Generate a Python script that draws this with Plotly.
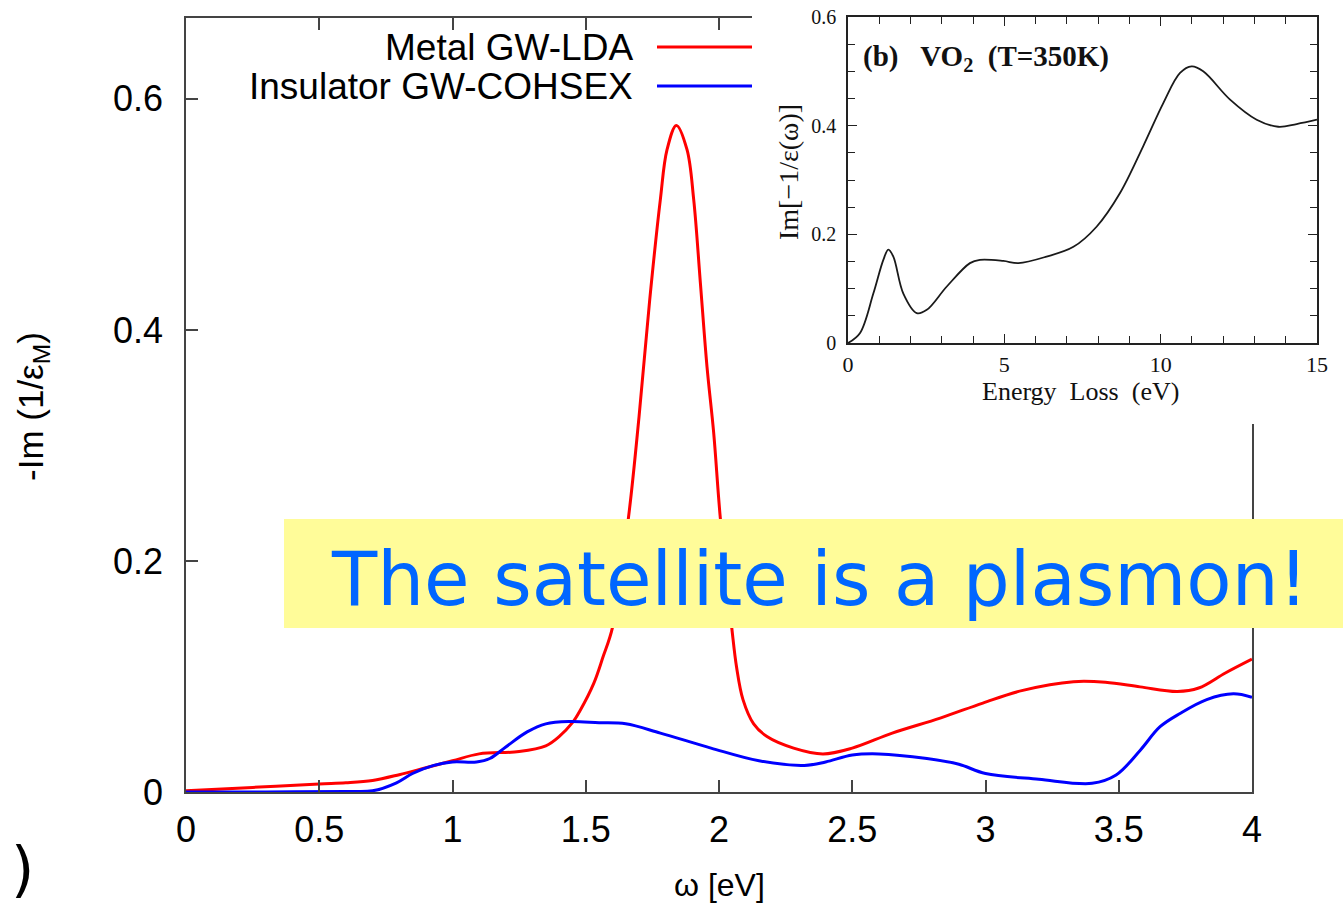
import plotly.graph_objects as go

W, H = 1343, 906

# ---------------- data ----------------
metal_x = [0, 0.25, 0.5, 0.6, 0.7, 0.8, 0.9, 1.0, 1.1, 1.25, 1.35, 1.40, 1.45, 1.48, 1.53, 1.565,
           1.6, 1.66, 1.70, 1.74, 1.78, 1.805, 1.84, 1.88, 1.905, 1.93, 1.955, 1.98, 2.005, 2.048,
           2.066, 2.09, 2.13, 2.18, 2.28, 2.39, 2.5, 2.65, 2.83, 2.99, 3.14, 3.33, 3.45, 3.58,
           3.72, 3.8, 3.9, 4.0]
metal_y = [0.001, 0.004, 0.007, 0.008, 0.010, 0.015, 0.021, 0.027, 0.033, 0.035, 0.040, 0.048,
           0.060, 0.071, 0.094, 0.117, 0.142, 0.237, 0.325, 0.426, 0.513, 0.556, 0.577, 0.556,
           0.513, 0.441, 0.368, 0.311, 0.237, 0.142, 0.108, 0.080, 0.059, 0.048, 0.038, 0.033,
           0.038, 0.051, 0.064, 0.077, 0.088, 0.0955, 0.095, 0.091, 0.087, 0.090, 0.103, 0.115]

insul_x = [0, 0.3, 0.6, 0.7, 0.79, 0.85, 0.93, 1.0, 1.09, 1.14, 1.2, 1.28, 1.35, 1.44, 1.55,
           1.65, 1.78, 1.97, 2.15, 2.32, 2.40, 2.50, 2.60, 2.78, 2.90, 3.0, 3.2, 3.40, 3.49,
           3.58, 3.655, 3.73, 3.83, 3.93, 4.0]
insul_y = [0.0, 0.0, 0.0005, 0.001, 0.008, 0.016, 0.023, 0.026, 0.026, 0.029, 0.039, 0.052,
           0.059, 0.061, 0.060, 0.059, 0.051, 0.038, 0.027, 0.023, 0.026, 0.032, 0.033, 0.029,
           0.024, 0.016, 0.011, 0.0075, 0.0147, 0.036, 0.0565, 0.068, 0.080, 0.085, 0.082]

exp_x = [0, 0.38, 0.81, 1.13, 1.29, 1.45, 1.77, 2.2, 2.52, 3.16, 3.9, 4.22, 4.97, 5.45, 6.35,
         7.21, 7.95, 8.7, 9.44, 10.08, 10.62, 10.99, 11.36, 12.22, 13.07, 13.76, 14.35, 15.0]
exp_y = [0, 0.018, 0.091, 0.153, 0.172, 0.159, 0.091, 0.055, 0.061, 0.104, 0.147, 0.153, 0.151,
         0.147, 0.159, 0.177, 0.214, 0.276, 0.362, 0.441, 0.497, 0.509, 0.500, 0.448, 0.411,
         0.398, 0.403, 0.411]

legend_names = ["Metal GW-LDA", "Insulator GW-COHSEX"]
main_xticks = [0, 0.5, 1, 1.5, 2, 2.5, 3, 3.5, 4]
main_yticks = [0, 0.2, 0.4, 0.6]
inset_xticks = [0, 5, 10, 15]
inset_yticks = [0, 0.2, 0.4, 0.6]
inset_yticktext = ["0", "0.2", "0.4", "0.6"]

RED = "#FF0000"
BLUE = "#0000FF"


def px(x):
    return x / W


def py(y):
    return 1 - y / H


fig = go.Figure()

# main curves
fig.add_trace(go.Scatter(x=metal_x, y=metal_y, mode="lines", name=legend_names[0],
                         line=dict(color=RED, width=3, shape="spline", smoothing=1.0),
                         xaxis="x", yaxis="y", showlegend=False))
fig.add_trace(go.Scatter(x=insul_x, y=insul_y, mode="lines", name=legend_names[1],
                         line=dict(color=BLUE, width=3, shape="spline", smoothing=1.0),
                         xaxis="x", yaxis="y", showlegend=False))

# white cover subplot (inset background)
fig.add_trace(go.Scatter(x=[0], y=[0], mode="markers", marker=dict(opacity=0),
                         hoverinfo="skip", showlegend=False, xaxis="x2", yaxis="y2"))

# inset curve
fig.add_trace(go.Scatter(x=exp_x, y=exp_y, mode="lines",
                         line=dict(color="#1a1a1a", width=1.8, shape="spline", smoothing=1.0),
                         xaxis="x3", yaxis="y3", showlegend=False))

AX = "#444444"
main_font = dict(family="Liberation Sans, Arial, sans-serif", size=36, color="black")
serif = "Liberation Serif, Times New Roman, serif"

fig.update_layout(
    width=W, height=H, template="none",
    margin=dict(l=0, r=0, t=0, b=0),
    paper_bgcolor="white", plot_bgcolor="white",
    showlegend=False,
    xaxis=dict(domain=[px(186), px(1252)], range=[0, 4], anchor="y",
               tickvals=main_xticks, ticks="inside", ticklen=12, tickwidth=1.5, tickcolor=AX,
               showline=True, linecolor=AX, linewidth=1.5, mirror="ticks",
               showgrid=False, zeroline=False, tickfont=main_font,
               ticklabelstandoff=5, automargin=False),
    yaxis=dict(domain=[py(792), py(18)], range=[0, 0.67], anchor="x",
               tickvals=main_yticks, ticks="inside", ticklen=12, tickwidth=1.5, tickcolor=AX,
               showline=True, linecolor=AX, linewidth=1.5, mirror="ticks",
               showgrid=False, zeroline=False, tickfont=main_font,
               ticklabelstandoff=14, automargin=False),
    xaxis2=dict(domain=[px(752), 1.0], range=[0, 1], anchor="y2", visible=False,
                showgrid=False, zeroline=False, automargin=False),
    yaxis2=dict(domain=[py(424), 1.0], range=[0, 1], anchor="x2", visible=False,
                showgrid=False, zeroline=False, automargin=False),
    xaxis3=dict(domain=[px(848), px(1317)], range=[0, 15], anchor="y3",
                tickvals=inset_xticks, ticks="inside", ticklen=9, tickwidth=1.3,
                tickcolor="#222", showline=True, linecolor="#222", linewidth=1.6,
                mirror="ticks", showgrid=False, zeroline=False,
                minor=dict(dtick=1, ticks="inside", ticklen=7, tickwidth=1.2, tickcolor="#222"),
                tickfont=dict(family=serif, size=22, color="#111"),
                ticklabelstandoff=1, automargin=False),
    yaxis3=dict(domain=[py(343), py(17)], range=[0, 0.6], anchor="x3",
                tickvals=inset_yticks, ticktext=inset_yticktext, ticks="inside", ticklen=9,
                tickwidth=1.3, tickcolor="#222", showline=True, linecolor="#222", linewidth=1.6,
                mirror="ticks", showgrid=False, zeroline=False,
                minor=dict(dtick=0.05, ticks="inside", ticklen=7, tickwidth=1.2, tickcolor="#222"),
                tickfont=dict(family=serif, size=20, color="#111"),
                ticklabelstandoff=6, automargin=False),
)

shapes = []
# legend line samples
shapes.append(dict(type="line", xref="paper", yref="paper", x0=px(657), x1=px(752),
                   y0=py(47), y1=py(47), line=dict(color=RED, width=3), layer="above"))
shapes.append(dict(type="line", xref="paper", yref="paper", x0=px(657), x1=px(752),
                   y0=py(86), y1=py(86), line=dict(color=BLUE, width=3), layer="above"))
# yellow callout box
shapes.append(dict(type="rect", xref="paper", yref="paper", x0=px(284), x1=1.0,
                   y0=py(628), y1=py(519), fillcolor="#FFFC99", line=dict(width=0),
                   layer="above"))
fig.update_layout(shapes=shapes)

ann = []
# legend texts
ann.append(dict(text=legend_names[0], xref="paper", yref="paper", x=px(635), y=py(47),
                xanchor="right", yanchor="middle", showarrow=False,
                font=dict(family="Liberation Sans, Arial, sans-serif", size=37, color="black")))
ann.append(dict(text=legend_names[1], xref="paper", yref="paper", x=px(635), y=py(86),
                xanchor="right", yanchor="middle", showarrow=False,
                font=dict(family="Liberation Sans, Arial, sans-serif", size=37, color="black")))
# axis titles
ann.append(dict(text="-Im (1/ε<sub>M</sub>)", xref="paper", yref="paper", x=px(33), y=py(407),
                xanchor="center", yanchor="middle", textangle=-90, showarrow=False,
                font=dict(family="Liberation Sans, Arial, sans-serif", size=35, color="black")))
ann.append(dict(text="ω [eV]", xref="paper", yref="paper", x=px(719), y=py(885),
                xanchor="center", yanchor="middle", showarrow=False,
                font=dict(family="Liberation Sans, Arial, sans-serif", size=32, color="black")))
# stray parenthesis
ann.append(dict(text=")", xref="paper", yref="paper", x=px(22), y=0,
                xanchor="center", yanchor="bottom", showarrow=False,
                font=dict(family="DejaVu Sans", size=60, color="black")))
# callout text
ann.append(dict(text="The satellite is a plasmon!", xref="paper", yref="paper",
                x=px(819), y=py(579), xanchor="center", yanchor="middle", showarrow=False,
                font=dict(family="DejaVu Sans", size=74, color="#0066FF")))
# inset labels
ann.append(dict(text="<b>(b)\u00a0\u00a0\u00a0VO<sub>2</sub>\u00a0\u00a0(T=350K)</b>",
                xref="paper", yref="paper",
                x=px(861), y=py(58), xanchor="left", yanchor="middle", showarrow=False,
                font=dict(family=serif, size=29, color="#111")))
ann.append(dict(text="Energy\u00a0\u00a0Loss\u00a0\u00a0(eV)", xref="paper", yref="paper",
                x=px(1080), y=py(391), xanchor="center", yanchor="middle", showarrow=False,
                font=dict(family=serif, size=26, color="#111")))
ann.append(dict(text="Im[−1/ε(ω)]", xref="paper", yref="paper", x=px(789), y=py(172),
                xanchor="center", yanchor="middle", textangle=-90, showarrow=False,
                font=dict(family=serif, size=28, color="#111")))
fig.update_layout(annotations=ann)

fig.write_html("out.html")
